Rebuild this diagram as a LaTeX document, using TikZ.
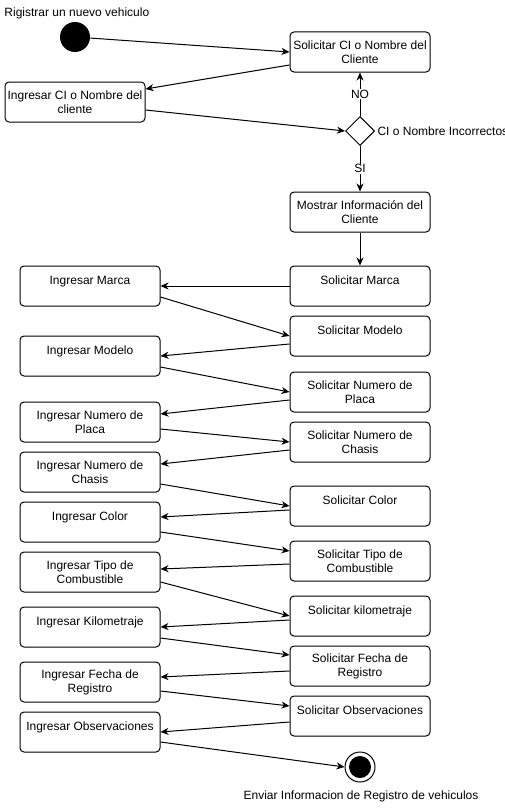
\documentclass[tikz,border=0pt]{standalone}
\usepackage{fontspec}
\setmainfont{Liberation Sans}
\usepackage{tikz}
\usetikzlibrary{arrows.meta, shapes.geometric, positioning}

\begin{document}
\begin{tikzpicture}[x=1pt, y=-1pt, line width=1pt,
        font=\fontsize{12}{14}\selectfont,
        caja/.style={draw, rounded corners=4pt, fill=white, align=center,
            minimum width=140pt, minimum height=40pt, inner sep=0pt},
        decision/.style={draw, diamond, fill=white, minimum width=29pt,
            minimum height=29pt, inner sep=0pt},
        flecha/.style={-{Stealth[length=8pt, width=7pt, inset=2.5pt]}},
        etiqueta/.style={fill=white, inner sep=1pt}]
        \useasboundingbox (0,0) rectangle (504,808);
        % inicio
        \node[anchor=west, inner sep=0pt] (titulo) at (4,13) {Rigistrar un nuevo vehiculo};
        \node[circle, fill=black, minimum size=30pt, inner sep=0pt] (inicio) at (75,37) {};
        \node[caja] (solCI) at (360,52) {Solicitar CI o Nombre del\\Cliente};
        \node[caja] (ingCI) at (75,102) {Ingresar CI o Nombre del\\cliente};
        \node[decision] (dec) at (360,131) {};
        \node[anchor=west, inner sep=0pt] (decTxt) at (377,131) {CI o Nombre Incorrectos};
        \node[caja] (mostrar) at (360,212) {Mostrar Informaci\'on del\\Cliente};
        % columna derecha
        \node[caja] (solMarca) at (360,286) {Solicitar Marca\\[-3pt]\mbox{}};
        \node[caja] (solModelo) at (360,336) {Solicitar Modelo\\[-3pt]\mbox{}};
        \node[caja] (solPlaca) at (360,392) {Solicitar Numero de\\Placa};
        \node[caja] (solChasis) at (360,442) {Solicitar Numero de\\Chasis};
        \node[caja] (solColor) at (360,506) {Solicitar Color\\[-3pt]\mbox{}};
        \node[caja] (solTipo) at (360,561) {Solicitar Tipo de\\Combustible};
        \node[caja] (solKm) at (360,616) {Solicitar kilometraje\\[-3pt]\mbox{}};
        \node[caja] (solFecha) at (360,666) {Solicitar Fecha de\\Registro};
        \node[caja] (solObs) at (360,716) {Solicitar Observaciones\\[-3pt]\mbox{}};
        % columna izquierda
        \node[caja] (ingMarca) at (90,286) {Ingresar Marca\\[-3pt]\mbox{}};
        \node[caja] (ingModelo) at (90,356) {Ingresar Modelo\\[-3pt]\mbox{}};
        \node[caja] (ingPlaca) at (90,422) {Ingresar Numero de\\Placa};
        \node[caja] (ingChasis) at (90,472) {Ingresar Numero de\\Chasis};
        \node[caja] (ingColor) at (90,522) {Ingresar Color\\[-3pt]\mbox{}};
        \node[caja] (ingTipo) at (90,572) {Ingresar Tipo de\\Combustible};
        \node[caja] (ingKm) at (90,627) {Ingresar Kilometraje\\[-3pt]\mbox{}};
        \node[caja] (ingFecha) at (90,682) {Ingresar Fecha de\\Registro};
        \node[caja] (ingObs) at (90,732) {Ingresar Observaciones\\[-3pt]\mbox{}};
        % fin
        \node[circle, draw, fill=white, minimum size=30pt, inner sep=0pt] (fin) at (360,767) {};
        \fill (fin.center) circle (11pt);
        \node[inner sep=0pt] (finTxt) at (361,796) {Enviar Informacion de Registro de vehiculos};
        % flujo
        \draw[flecha] (inicio) -- (solCI.west);
        \draw[flecha] (dec.north) -- node[etiqueta] {NO} (solCI.south);
        \draw[flecha] (dec.south) -- node[etiqueta] {SI} (mostrar.north);
        \draw[flecha] (mostrar.south) -- (solMarca.north);
        \foreach \a/\sa/\b/\sb in {solCI.west/-13pt/ingCI.east/13pt,
            ingCI.east/-8pt/dec.west/0pt, solMarca.west/0pt/ingMarca.east/0pt,
            ingMarca.east/-11pt/solModelo.west/0pt, solModelo.west/-8pt/ingModelo.east/0pt,
            ingModelo.east/-11pt/solPlaca.west/0pt, solPlaca.west/-8pt/ingPlaca.east/8pt,
            ingPlaca.east/-7pt/solChasis.west/0pt, solChasis.west/-8pt/ingChasis.east/8pt,
            ingChasis.east/-12pt/solColor.west/0pt, solColor.west/-4pt/ingColor.east/5pt,
            ingColor.east/-10pt/solTipo.west/10pt, solTipo.west/-3pt/ingTipo.east/3pt,
            ingTipo.east/-10pt/solKm.west/0pt, solKm.west/-4pt/ingKm.east/0pt,
            ingKm.east/-11pt/solFecha.west/11pt, solFecha.west/-5pt/ingFecha.east/5pt,
            ingFecha.east/-9pt/solObs.west/10pt, solObs.west/-6pt/ingObs.east/0pt,
            ingObs.east/-10pt/fin.west/0pt}
        \draw[flecha] ([yshift=\sa]\a) -- ([yshift=\sb]\b);
\end{tikzpicture}
\end{document}
